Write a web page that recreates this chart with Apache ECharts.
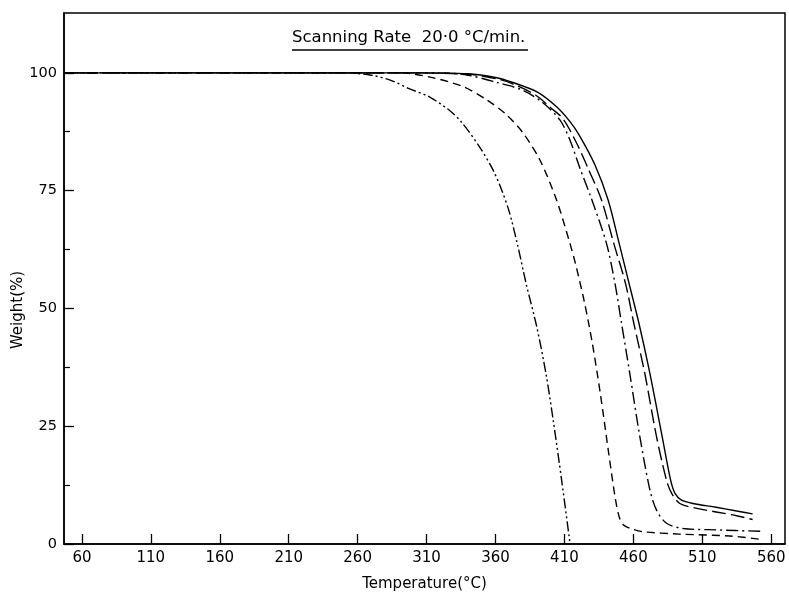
<!DOCTYPE html>
<html>
<head>
<meta charset="utf-8">
<script src="https://cdn.jsdelivr.net/npm/echarts@6/dist/echarts.min.js"></script>
<style>
html,body{margin:0;padding:0;background:#fff;}
#c{width:789px;height:592px;}
</style>
</head>
<body>
<div id="c"></div>
<script>
// Temperature (°C) vs Weight (%)
const xTicks = [60,110,160,210,260,310,360,410,460,510,560];
const yTicks = [0,25,50,75,100];
const yMinorTicks = [12.5,37.5,62.5,87.5];

const solidCurve = [[47,100],[300,100],[340,99.8],[360,99],[372,98],[389.8,96],[404.3,92.8],[413.9,89.7],[420.7,86.8],[432.1,80.5],[441.7,73],[449.7,63.8],[456.8,55.4],[464,46.9],[472,36.2],[480.9,22.8],[487,13.6],[490.1,10.8],[495,9.3],[503.3,8.6],[520,7.8],[535,7],[546.5,6.4]];
const longDashCurve = [[47,100],[300,100],[340,99.7],[360,98.8],[372,97.7],[389,95.3],[400,92.6],[409.1,90.2],[418.8,85.1],[427.5,79.5],[436.9,73],[445.8,63.8],[454.3,55.3],[460.3,46.9],[468.3,36.2],[476.8,22.8],[484,13.6],[487.7,10.8],[493.7,8.6],[505.3,7.6],[520,6.8],[535,6],[546.5,5.2]];
const dashDotCurve = [[47,100],[320,100],[340,99.5],[360.5,98],[379.8,96.3],[394.6,93.6],[406.7,90],[413.9,85.8],[421.2,79.8],[429.7,73.2],[440.5,63.8],[446.6,55.4],[451.4,46.9],[457.4,36.2],[464.7,22.8],[472,11.5],[476.8,7.2],[484.1,4.4],[496.1,3.3],[520,3.0],[552,2.7]];
const dashCurve = [[47,100],[290,100],[312.4,99.1],[336.3,97.1],[353.5,94.3],[368,91.1],[380.1,87.2],[392.2,81.5],[404.3,73],[414,63.8],[418,59.5],[424,52],[430,43],[436,32],[442,19.5],[447,9.5],[450,5.5],[453,4],[460,3.1],[467.1,2.6],[493,2.1],[530,1.7],[552,1.0]];
const dashDotDotCurve = [[47,100],[250,100],[270,99.5],[285,98.3],[297.7,96.6],[312,94.9],[326.7,92],[336,89.3],[348.4,84.3],[358,79.5],[364,75.5],[370,70.5],[376,63.5],[382.2,55.3],[390,46],[396.7,36],[402,26],[408,13.5],[414.1,0]];

const FONT = 'DejaVu Sans';
const chart = echarts.init(document.getElementById('c'), null, {renderer:'canvas'});

function mk(name, data, type){
  return {name, type:'line', data, xAxisIndex:0, yAxisIndex:0, showSymbol:false,
    smooth:0.3,
    lineStyle:{color:'#000', width:1.4, type}, animation:false, z:3};
}

chart.setOption({
  animation:false,
  backgroundColor:'#fff',
  grid:{left:64, right:4, top:13, bottom:48, containLabel:false, outerBoundsMode:'none',
    show:true, borderColor:'#000', borderWidth:1.5, backgroundColor:'transparent'},
  graphic:[
    {type:'text', left:292, top:29, style:{text:'Scanning Rate  20·0 °C/min.', font:'16.5px "'+FONT+'"', fill:'#000'}},
    {type:'line', shape:{x1:292, y1:50, x2:528, y2:50}, style:{stroke:'#000', lineWidth:1.3}},
    {type:'text', x:18, y:310, rotation:Math.PI/2, style:{text:'Weight(%)', font:'15px "'+FONT+'"', fill:'#000', align:'center', verticalAlign:'middle'}}
  ],
  xAxis:[{type:'value', min:47, max:570, position:'bottom',
    name:'Temperature(°C)', nameLocation:'middle', nameGap:33,
    nameTextStyle:{fontFamily:FONT, fontSize:15, color:'#000'},
    axisLine:{show:true, lineStyle:{color:'#000', width:1.5}},
    axisTick:{show:true, inside:true, length:10, customValues:xTicks, lineStyle:{color:'#000', width:1.3}},
    axisLabel:{customValues:xTicks, fontFamily:FONT, fontSize:15, color:'#000', margin:7},
    splitLine:{show:false}}],
  yAxis:[{type:'value', min:0, max:112.7, position:'left',
    axisLine:{show:true, lineStyle:{color:'#000', width:1.5}},
    axisTick:{show:true, inside:true, length:10, customValues:yTicks, lineStyle:{color:'#000', width:1.3}},
    axisLabel:{customValues:yTicks, fontFamily:FONT, fontSize:14.5, color:'#000', margin:7},
    splitLine:{show:false}},
   {type:'value', min:0, max:112.7, position:'left',
    axisLine:{show:false},
    axisTick:{show:true, inside:true, length:6, customValues:yMinorTicks, lineStyle:{color:'#000', width:1.2}},
    axisLabel:{show:false}, splitLine:{show:false}}],
  series:[
    mk('solid', solidCurve, 'solid'),
    mk('longdash', longDashCurve, [14,5]),
    mk('dashdot', dashDotCurve, [12,4,2,4]),
    mk('dash', dashCurve, [8,5]),
    mk('dashdotdot', dashDotDotCurve, [10,3,2,3,2,3])
  ]
});
</script>
</body>
</html>
